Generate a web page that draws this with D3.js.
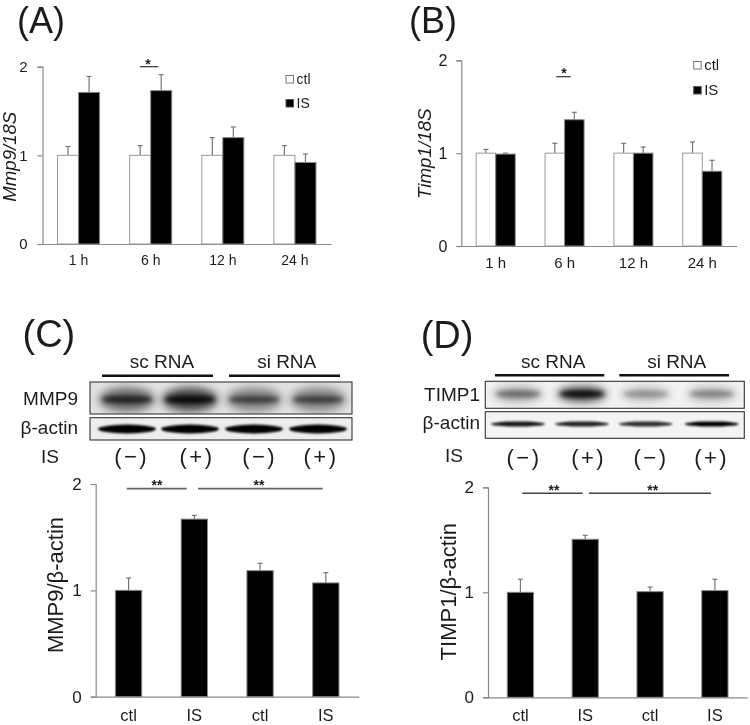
<!DOCTYPE html>
<html><head><meta charset="utf-8">
<script src="https://cdn.jsdelivr.net/npm/d3@7"></script>
<style>html,body{margin:0;padding:0;background:#fff}svg{display:block;filter:blur(.45px)}text{font-family:"Liberation Sans",Arial,sans-serif;fill:#1c1c1c}</style>
</head><body><svg id="c" width="750" height="725"></svg>
<script>
// ---- data ----
const timeCats=["1 h","6 h","12 h","24 h"];
const groupCats=["ctl","IS","ctl ","IS "];
const yTicks=[0,1,2];
const seriesNames=["ctl","IS"];
const aCtl=[1,1,1,1];
const aCtlTop=[1.10,1.11,1.20,1.11];
const aIS=[1.71,1.73,1.20,0.92];
const aISTop=[1.89,1.91,1.32,1.015];
const bCtl=[1,1,1,1];
const bCtlTop=[1.04,1.106,1.106,1.12];
const bIS=[0.99,1.36,1.0,0.805];
const bISTop=[1.0,1.44,1.066,0.923];
const cVals=[1,1.67,1.185,1.07];
const cTops=[1.116,1.705,1.254,1.166];
const dVals=[1,1.505,1.006,1.016];
const dTops=[1.124,1.543,1.05,1.124];
const isLabels=["(−)","(+)","(−)","(+)"];
const blotMMP9=[.78,1,.6,.6];
const blotActinC=[1,1,1,1];
const blotTIMP1=[.45,1,.3,.35];
const blotActinD=[.9,.85,.8,1];

const svg=d3.select("#c");
const defs=svg.append("defs");
[["b1",1.2],["b2",2],["b4",4.5]].forEach(([id,s])=>{
  defs.append("filter").attr("id",id).attr("x","-30%").attr("y","-100%").attr("width","160%").attr("height","300%")
   .append("feGaussianBlur").attr("stdDeviation",s);
});

function label(t,x,y,o={}){
  const s=svg.append("text").attr("x",x).attr("y",y).text(t)
    .attr("font-size",o.size||19).attr("text-anchor",o.anchor||"start");
  if(o.italic)s.attr("font-style","italic");
  if(o.rotate)s.attr("transform",`rotate(-90 ${x} ${y})`);
  if(o.spacing)s.attr("letter-spacing",o.spacing);
  return s;
}
function axes(L,cats){
  const x=d3.scaleBand().domain(cats).range([L.x0,L.x1]).paddingInner(L.pad).paddingOuter(L.pad/2);
  const y=d3.scaleLinear().domain([0,2]).range([L.y0,L.y2]);
  const gy=svg.append("g").attr("transform",`translate(${L.x0},0)`)
    .call(d3.axisLeft(y).tickValues(yTicks).tickFormat(d3.format("d")).tickSize(5).tickPadding(L.tickPadY));
  const gx=svg.append("g").attr("transform",`translate(0,${L.y0})`)
    .call(d3.axisBottom(x).tickSize(0).tickPadding(L.tickPadX));
  gy.selectAll("line,path").attr("stroke","#8a8a8a").attr("stroke-width",1.2);
  gx.selectAll("path").attr("stroke","#8a8a8a").attr("stroke-width",1.2);
  gy.selectAll("text").attr("font-size",L.yFont).style("fill","#1c1c1c");
  gx.selectAll("text").attr("font-size",L.xFont).style("fill","#1c1c1c").text(d=>d.trim());
  return {x,y};
}
function bars(sc,vals,tops,x0,w,fill,stroke){
  const cats=sc.x.domain();
  const g=svg.append("g");
  g.selectAll("line.e").data(vals).join("line")
    .attr("x1",(d,i)=>x0(cats[i])+w/2).attr("x2",(d,i)=>x0(cats[i])+w/2)
    .attr("y1",d=>sc.y(d)).attr("y2",(d,i)=>sc.y(tops[i])).attr("stroke","#777").attr("stroke-width",1.2);
  g.selectAll("line.c").data(vals).join("line")
    .attr("x1",(d,i)=>x0(cats[i])+w/2-2.5).attr("x2",(d,i)=>x0(cats[i])+w/2+2.5)
    .attr("y1",(d,i)=>sc.y(tops[i])).attr("y2",(d,i)=>sc.y(tops[i])).attr("stroke","#777").attr("stroke-width",1.2);
  g.selectAll("rect").data(vals).join("rect")
    .attr("x",(d,i)=>x0(cats[i])).attr("width",w)
    .attr("y",d=>sc.y(d)).attr("height",d=>sc.y(0)-sc.y(d))
    .attr("fill",fill).attr("stroke",stroke).attr("stroke-width",1);
}
function sig(x1,x2,y,stars,cx,sy,col,sw){
  svg.append("line").attr("x1",x1).attr("x2",x2).attr("y1",y).attr("y2",y).attr("stroke",col).attr("stroke-width",sw);
  label(stars,cx,sy,{size:14,anchor:"middle"}).attr("font-weight","bold");
}
function legend(L){
  seriesNames.forEach((n,i)=>{
    svg.append("rect").attr("x",L.x).attr("y",L.ys[i]-L.s).attr("width",L.s).attr("height",L.s)
      .attr("fill",i?"#000":"#fff").attr("stroke",i?"#555":"#777").attr("stroke-width",1);
    label(n,L.x+L.s+3,L.ys[i]+.5,{size:L.font});
  });
}
let clipN=0;
function blot(B,vals,cfg){
  const id="cl"+(clipN++);
  defs.append("clipPath").attr("id",id).append("rect").attr("x",B.x0).attr("y",B.y0).attr("width",B.x1-B.x0).attr("height",B.y1-B.y0);
  const g=svg.append("g").attr("clip-path",`url(#${id})`);
  g.append("rect").attr("x",B.x0).attr("y",B.y0).attr("width",B.x1-B.x0).attr("height",B.y1-B.y0).attr("fill",cfg.bg);
  vals.forEach((v,i)=>{
    if(cfg.smearH){
      g.append("ellipse").attr("cx",B.lanes[i]).attr("cy",cfg.cy).attr("rx",cfg.rx+3).attr("ry",cfg.smearH)
        .attr("fill","#000").attr("opacity",cfg.smearOp*v).attr("filter","url(#b4)");
    }
    g.append("ellipse").attr("cx",B.lanes[i]).attr("cy",cfg.cy).attr("rx",cfg.rx).attr("ry",cfg.ry)
      .attr("fill","#000").attr("opacity",Math.min(1,cfg.op*v)).attr("filter","url(#"+cfg.blur+")");
  });
  svg.append("rect").attr("x",B.x0).attr("y",B.y0).attr("width",B.x1-B.x0).attr("height",B.y1-B.y0)
    .attr("fill","none").attr("stroke","#333").attr("stroke-width",1.1);
}

// ---- Panel A ----
const LA={x0:42.5,x1:331,y0:244,y2:66.7,pad:.417,tickPadY:10,tickPadX:11,yFont:15,xFont:14};
const sa=axes(LA,timeCats);
const wa=sa.x.bandwidth()/2;
bars(sa,aCtl,aCtlTop,sa.x,wa,"#fff","#999");
bars(sa,aIS,aISTop,d=>sa.x(d)+wa,wa,"#000","#888");
label("(A)",17,32.5,{size:36});
label("Mmp9/18S",16.5,156.7,{size:18.6,italic:true,rotate:true,anchor:"middle"});
legend({x:286,ys:[83,107],s:7.5,font:14});
sig(140,158.3,66.7,"*",148,69,"#333",1.2);

// ---- Panel B ----
const LB={x0:461.3,x1:736.7,y0:246,y2:60.3,pad:.433,tickPadY:9,tickPadX:11.5,yFont:16,xFont:15};
const sb=axes(LB,timeCats);
const wb=sb.x.bandwidth()/2;
bars(sb,bCtl,bCtlTop,sb.x,wb,"#fff","#999");
bars(sb,bIS,bISTop,d=>sb.x(d)+wb,wb,"#000","#888");
label("(B)",409,32.5,{size:36});
label("Timp1/18S",431.5,153.7,{size:18.8,italic:true,rotate:true,anchor:"middle"});
legend({x:693.7,ys:[69,94],s:7.5,font:15});
sig(556.3,570.7,76.7,"*",564,78,"#333",1.2);

// ---- Panel C ----
label("(C)",22.5,347,{size:38});
label("sc RNA",162,368,{anchor:"middle"});
label("si RNA",286.7,368,{anchor:"middle"});
[[102,213],[229,340]].forEach(p=>svg.append("line").attr("x1",p[0]).attr("x2",p[1]).attr("y1",375.7).attr("y2",375.7).attr("stroke","#111").attr("stroke-width",2.6));
label("MMP9",78,405,{anchor:"end"});
label("β-actin",78,434,{anchor:"end"});
label("IS",50,462.7,{anchor:"middle"});
const lanesC=[127,190,254,318];
blot({x0:90,x1:352,y0:382,y1:414,lanes:lanesC},blotMMP9,{bg:"#e2e2e2",cy:399.5,rx:25,ry:3.6,op:.9,blur:"b2",smearH:12,smearOp:.7});
blot({x0:90,x1:352,y0:417.7,y1:440,lanes:lanesC},blotActinC,{bg:"#ededed",cy:429,rx:29,ry:4.4,op:1,blur:"b1"});
[131.7,197,259.7,321].forEach((x,i)=>label(isLabels[i],x,464,{anchor:"middle",size:22,spacing:2.5}));
const LC={x0:95.7,x1:358.7,y0:696.7,y2:484,pad:.6,tickPadY:9,tickPadX:12.5,yFont:17,xFont:16.5};
const sc=axes(LC,groupCats);
bars(sc,cVals,cTops,sc.x,sc.x.bandwidth(),"#000","#888");
label("MMP9/β-actin",62.5,585,{size:22,rotate:true,anchor:"middle"});
sig(126.7,186.7,488.7,"**",157,490,"#666",1.8);
sig(198,322.7,488.7,"**",259,490,"#666",1.8);

// ---- Panel D ----
label("(D)",420.7,348,{size:38});
label("sc RNA",553.3,368,{anchor:"middle"});
label("si RNA",676.7,368,{anchor:"middle"});
[[495,604.3],[619.3,729]].forEach(p=>svg.append("line").attr("x1",p[0]).attr("x2",p[1]).attr("y1",375.3).attr("y2",375.3).attr("stroke","#111").attr("stroke-width",2.6));
label("TIMP1",480,400.7,{anchor:"end"});
label("β-actin",480,429,{anchor:"end"});
label("IS",454,461.7,{anchor:"middle"});
const lanesD=[518,582,645.7,711.7];
blot({x0:485.3,x1:744.3,y0:381.3,y1:408.3,lanes:lanesD},blotTIMP1,{bg:"#f2f2f2",cy:394,rx:22,ry:3.4,op:.85,blur:"b2",smearH:8,smearOp:.65});
blot({x0:485.3,x1:744.3,y0:411.7,y1:438.3,lanes:lanesD},blotActinD,{bg:"#f4f4f4",cy:424,rx:27,ry:2.6,op:1,blur:"b1"});
[524,588.7,651,711.7].forEach((x,i)=>label(isLabels[i],x,465,{anchor:"middle",size:22,spacing:2.5}));
const LD={x0:488,x1:747.3,y0:697.3,y2:487.3,pad:.595,tickPadY:9,tickPadX:12,yFont:17,xFont:16.5};
const sd=axes(LD,groupCats);
bars(sd,dVals,dTops,sd.x,sd.x.bandwidth(),"#000","#888");
label("TIMP1/β-actin",456,591.7,{size:22,rotate:true,anchor:"middle"});
sig(522.3,582.7,493.3,"**",554,495,"#444",1.4);
sig(589,711,493.3,"**",652.7,495,"#444",1.4);
</script></body></html>
